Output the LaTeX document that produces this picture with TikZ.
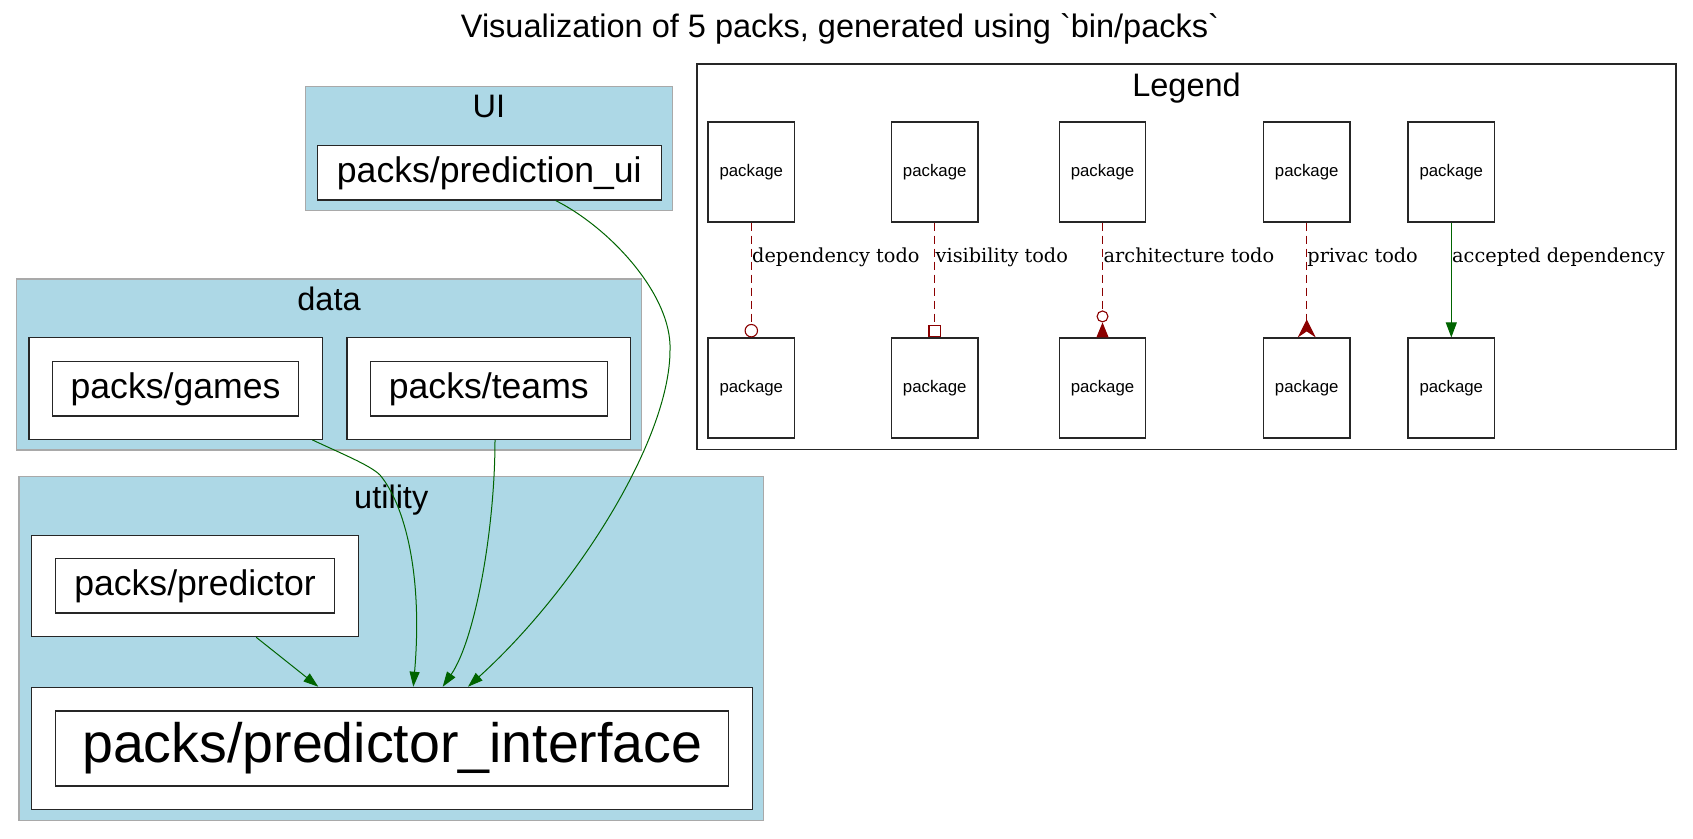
\documentclass[tikz,border=0pt]{standalone}
\usepackage{fontspec}
\newfontfamily\lsans{Liberation Sans}
\newfontfamily\dserif{DejaVu Serif}
\usetikzlibrary{arrows.meta}
\definecolor{clusterfill}{HTML}{ADD8E6}
\definecolor{clusterline}{HTML}{A9A9A9}
\definecolor{depgreen}{HTML}{006400}
\definecolor{todored}{HTML}{8B0000}
\begin{document}
\begin{tikzpicture}[x=1pt,y=-1pt,
  wh/.style 2 args={minimum width=#1pt, minimum height=#2pt},
  pkgbox/.style={draw=black!85, line width=1.15pt, fill=white, inner sep=0pt, rectangle},
  cluster/.style={draw=clusterline, line width=1.3pt, fill=clusterfill, inner sep=0pt, rectangle},
  legendframe/.style={draw=black!85, line width=1.3pt, fill=white, inner sep=0pt, rectangle},
  namefont/.style={font=\lsans\fontsize{35.6}{40}\selectfont},
  hugefont/.style={font=\lsans\fontsize{55.5}{60}\selectfont},
  headfont/.style={font=\lsans\fontsize{32.5}{36}\selectfont, inner sep=0pt},
  smallfont/.style={font=\lsans\fontsize{16.8}{19}\selectfont},
  elabel/.style={font=\dserif\fontsize{19.3}{22}\selectfont, inner sep=0pt, anchor=base west},
  depedge/.style={draw=depgreen, line width=1pt, -{Triangle[length=15pt,width=10pt]}},
  todoedge/.style={draw=todored, line width=1.1pt, dash pattern=on 8pt off 5pt},
]
\useasboundingbox (0,0) rectangle (1693,838);

% title
\node[headfont, anchor=base] (title) at (840,37.3) {Visualization of 5 packs, generated using `bin/packs`};

% clusters
\node[cluster, wh={366.9}{123.6}] (cui) at (488.85,148.5) {};
\node[headfont, anchor=base] (cuilab) at (488.85,117.3) {UI};
\node[cluster, wh={625}{171}] (cdata) at (329,364.5) {};
\node[headfont, anchor=base] (cdatalab) at (329,310) {data};
\node[cluster, wh={744.7}{344}] (cutil) at (391.25,648.7) {};
\node[headfont, anchor=base] (cutillab) at (391.25,508.3) {utility};

% package nodes
\node[pkgbox, namefont, wh={343.8}{54.3}] (predui) at (489.3,172.9) {packs/prediction\_ui};

\node[pkgbox, wh={293.3}{101.6}] (gamesout) at (175.7,388.5) {};
\node[pkgbox, namefont, wh={246.5}{54.3}] (games) at (175.5,388.9) {packs/games};
\node[pkgbox, wh={283.5}{101.6}] (teamsout) at (488.7,388.5) {};
\node[pkgbox, namefont, wh={236.6}{54.3}] (teams) at (488.8,388.9) {packs/teams};

\node[pkgbox, wh={326.9}{101}] (predout) at (194.8,586.2) {};
\node[pkgbox, namefont, wh={278.6}{54.3}] (pred) at (195,585.9) {packs/predictor};
\node[pkgbox, wh={721.4}{122}] (ifaceout) at (392,748.3) {};
\node[pkgbox, hugefont, wh={673.1}{75}] (iface) at (392.3,748.5) {packs/predictor\_interface};

% dependency edges
\draw[depedge] ([xshift=61.4pt]predout.south) -- ([xshift=-73.7pt]ifaceout.north);
\draw[depedge] ([xshift=-10.6pt]gamesout.south east) .. controls (340,453) and (370,465) .. (380,475)
   .. controls (405,505) and (423,575) .. ([xshift=21.3pt]ifaceout.north);
\draw[depedge] ([xshift=6.3pt]teamsout.south) .. controls (495,530) and (475,640) .. ([xshift=50.7pt]ifaceout.north);
\draw[depedge] ([xshift=66.5pt]predui.south) .. controls (610,228) and (672,295) .. (670,350)
   .. controls (670,440) and (575,590) .. ([xshift=76pt]ifaceout.north);

% legend
\node[legendframe, wh={979.1}{385.3}] (legend) at (1186.45,256.65) {};
\node[headfont, anchor=base] (legendlab) at (1186.5,96.7) {Legend};

\node[pkgbox, smallfont, wh={86.5}{100}] (la1) at (751.3,172) {package};
\node[pkgbox, smallfont, wh={86.5}{100}] (lb1) at (751.3,388) {package};
\node[pkgbox, smallfont, wh={86.5}{100}] (la2) at (934.7,172) {package};
\node[pkgbox, smallfont, wh={86.5}{100}] (lb2) at (934.7,388) {package};
\node[pkgbox, smallfont, wh={86.5}{100}] (la3) at (1102.5,172) {package};
\node[pkgbox, smallfont, wh={86.5}{100}] (lb3) at (1102.5,388) {package};
\node[pkgbox, smallfont, wh={86.5}{100}] (la4) at (1306.7,172) {package};
\node[pkgbox, smallfont, wh={86.5}{100}] (lb4) at (1306.7,388) {package};
\node[pkgbox, smallfont, wh={86.5}{100}] (la5) at (1451.3,172) {package};
\node[pkgbox, smallfont, wh={86.5}{100}] (lb5) at (1451.3,388) {package};

\draw[todoedge, -{Circle[open,fill=white,length=13.5pt,width=13.5pt]}] (la1) -- (lb1);
\draw[todoedge, -{Square[open,fill=white,length=12.5pt,width=12.5pt]}] (la2) -- (lb2);
\draw[todoedge, -{Circle[open,fill=white,length=12pt,width=12pt] Triangle[reversed,length=15pt,width=12pt]}] (la3) -- (lb3);
\draw[todoedge, -{Stealth[reversed,length=18pt,width=18pt,inset=6pt]}] (la4) -- (lb4);
\draw[depedge, -{Triangle[length=15pt,width=11pt]}] (la5) -- (lb5);

\node[elabel] (e1) at (752,262.8) {dependency todo};
\node[elabel] (e2) at (935.5,262.8) {visibility todo};
\node[elabel] (e3) at (1103.5,262.8) {architecture todo};
\node[elabel] (e4) at (1307.2,262.8) {privac todo};
\node[elabel] (e5) at (1452,262.8) {accepted dependency};
\end{tikzpicture}
\end{document}
